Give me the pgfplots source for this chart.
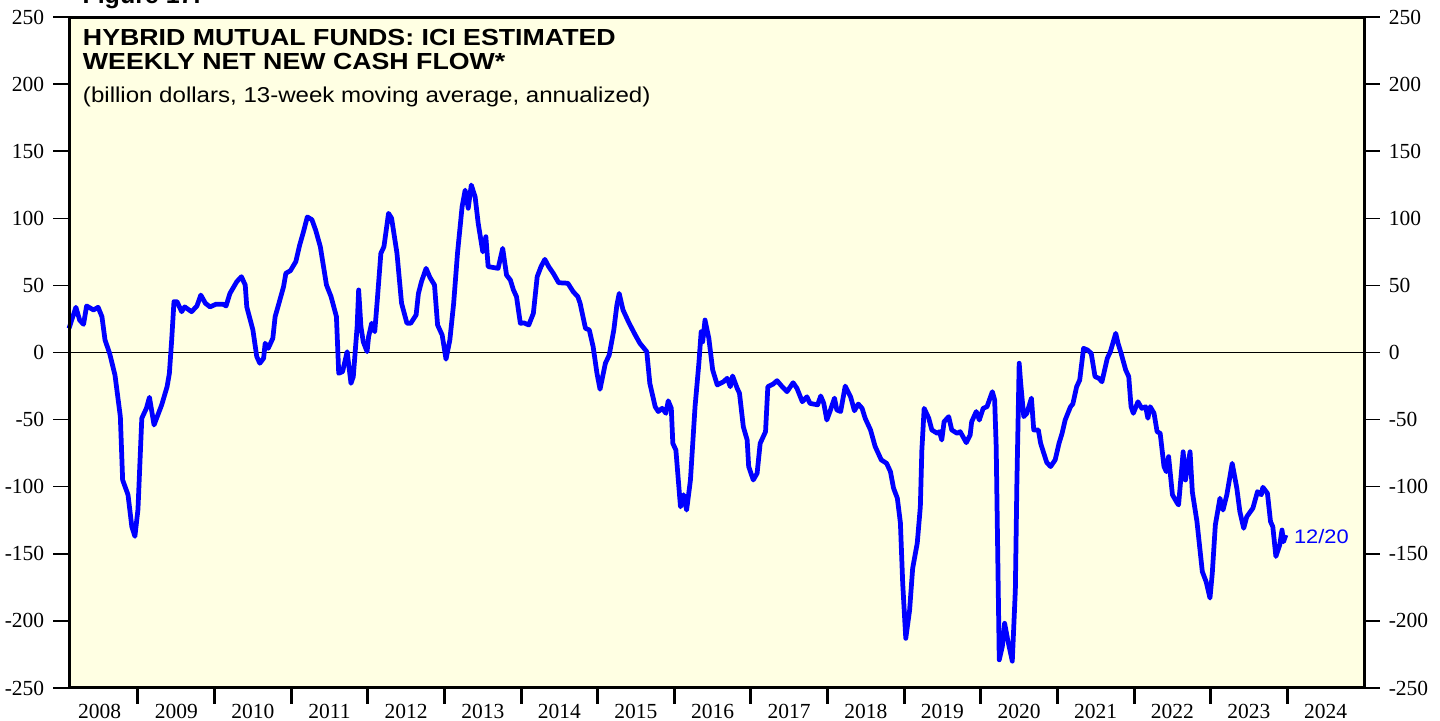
\documentclass[border=0pt]{standalone}
\usepackage{pgfplots}
\pgfplotsset{compat=1.18}
\usepackage{pgfplotstable}
\usepackage{fontspec}
\setmainfont{Liberation Serif}
\newfontfamily\arial{Liberation Sans}
\newfontfamily\titlesf[FakeStretch=1.15]{Liberation Sans}
\newfontfamily\subsf[FakeStretch=1.12]{Liberation Sans}
\definecolor{bgyellow}{RGB}{255,255,227}
\definecolor{lineblue}{RGB}{0,0,255}

% hybrid funds, 13-week avg, annualized (billion $)
\pgfplotstableread{
year flow
2008.10 18
2008.19 33.7
2008.24 24
2008.29 21
2008.33 34.7
2008.42 31.7
2008.48 33.7
2008.53 26.7
2008.57 9.3
2008.63 -0.6
2008.70 -16.8
2008.77 -47.8
2008.80 -95
2008.87 -106
2008.92 -129.8
2008.96 -137
2009.00 -117
2009.05 -49
2009.11 -41.6
2009.15 -33.4
2009.21 -54
2009.31 -39
2009.38 -25.5
2009.41 -15.5
2009.44 9.3
2009.47 37.9
2009.51 37.9
2009.57 30.4
2009.61 34
2009.70 30.4
2009.77 34.7
2009.82 42.8
2009.88 36.7
2009.94 34
2010.02 36
2010.11 36
2010.15 34.7
2010.20 44
2010.29 52.8
2010.35 56.5
2010.40 50.3
2010.42 34
2010.50 16.8
2010.55 -3
2010.59 -8
2010.64 -4.3
2010.66 6.9
2010.70 3.1
2010.76 10.6
2010.79 26.7
2010.83 34.7
2010.90 49
2010.93 59
2010.99 61
2011.06 67.7
2011.11 80
2011.16 90
2011.21 101
2011.27 99
2011.32 91
2011.38 78.8
2011.46 50.3
2011.52 41.6
2011.59 26.7
2011.62 -15.5
2011.67 -14.3
2011.73 0.6
2011.78 -23
2011.81 -18
2011.86 19.2
2011.88 46.6
2011.91 19.2
2011.94 8
2011.99 0.6
2012.01 11.8
2012.05 21.8
2012.09 15.5
2012.12 36.7
2012.17 73.9
2012.21 78.8
2012.27 103.7
2012.31 100
2012.38 74
2012.44 36.7
2012.51 21.8
2012.56 21.8
2012.63 28
2012.66 44
2012.70 52.8
2012.76 62.7
2012.81 56
2012.87 50.3
2012.91 20.5
2012.97 13
2013.02 -5
2013.07 9.3
2013.12 36.7
2013.17 74
2013.23 108.6
2013.27 121
2013.31 107.5
2013.35 124.8
2013.40 116
2013.44 96.3
2013.50 75
2013.54 86.3
2013.57 64
2013.70 62.7
2013.76 77.6
2013.81 57.7
2013.86 54
2013.90 46.6
2013.94 41.6
2013.99 21.8
2014.04 22
2014.10 20.5
2014.16 29.2
2014.21 56.5
2014.26 64
2014.31 69.4
2014.36 64
2014.42 59
2014.49 52
2014.61 51.6
2014.68 45.3
2014.74 41.6
2014.77 36.7
2014.84 18
2014.89 16.8
2014.94 4.3
2014.99 -15.5
2015.03 -27.4
2015.10 -8
2015.15 -1.9
2015.21 16.8
2015.25 35.4
2015.28 44
2015.33 31.7
2015.41 21.8
2015.49 13
2015.55 6.9
2015.64 0.6
2015.68 -23
2015.75 -40.4
2015.79 -44
2015.84 -41.6
2015.89 -45.3
2015.92 -36
2015.96 -41.6
2015.98 -67.7
2016.02 -72.7
2016.08 -115
2016.12 -106
2016.16 -117.4
2016.21 -95
2016.27 -40.4
2016.32 -8
2016.35 15.5
2016.37 8
2016.40 24.2
2016.45 10.6
2016.50 -13
2016.56 -24.2
2016.64 -21.8
2016.69 -19.2
2016.73 -25.5
2016.76 -17.5
2016.82 -26.7
2016.85 -30.4
2016.90 -55.3
2016.95 -65.2
2016.97 -85
2017.03 -95
2017.08 -90
2017.12 -67.7
2017.19 -59
2017.22 -25.5
2017.29 -23.5
2017.34 -21
2017.40 -25
2017.47 -29.2
2017.55 -22.5
2017.60 -26.7
2017.67 -36.7
2017.73 -33
2017.77 -37.9
2017.87 -39
2017.91 -32.4
2017.95 -37.9
2017.99 -50.3
2018.03 -44
2018.09 -34
2018.12 -42.8
2018.17 -44
2018.23 -25
2018.30 -33
2018.35 -43.4
2018.40 -38.4
2018.45 -41.6
2018.49 -49
2018.56 -57.7
2018.62 -70
2018.70 -80
2018.77 -82.6
2018.82 -88.8
2018.86 -101
2018.91 -108.6
2018.95 -127
2018.98 -172
2019.02 -213
2019.07 -192
2019.11 -160.8
2019.17 -142
2019.21 -115
2019.23 -72.7
2019.26 -41.6
2019.32 -49
2019.36 -57.7
2019.43 -60.2
2019.46 -59
2019.49 -65.2
2019.52 -51.6
2019.58 -47.8
2019.62 -57.7
2019.69 -60.2
2019.73 -59
2019.81 -67.2
2019.86 -61.5
2019.88 -51.6
2019.94 -44
2019.98 -50.3
2020.03 -41.6
2020.08 -40.4
2020.15 -29.2
2020.18 -35.4
2020.20 -70
2020.24 -229
2020.28 -219
2020.31 -201.8
2020.35 -214
2020.41 -230
2020.45 -177
2020.47 -97.5
2020.50 -8
2020.52 -23
2020.56 -47.8
2020.60 -45.3
2020.66 -34
2020.69 -57.7
2020.75 -57.7
2020.78 -67.7
2020.86 -82
2020.91 -85
2020.97 -80
2021.02 -67.7
2021.06 -60.2
2021.10 -50.3
2021.17 -40.4
2021.20 -38.4
2021.25 -25.5
2021.29 -20.5
2021.34 3.1
2021.39 1.9
2021.44 -0.6
2021.49 -18
2021.54 -19.2
2021.58 -21.8
2021.65 -4.3
2021.69 0.6
2021.76 14.3
2021.79 6.9
2021.83 -0.6
2021.89 -13
2021.93 -18
2021.96 -40.4
2021.99 -45.3
2022.05 -36.7
2022.10 -41.6
2022.15 -40.4
2022.18 -49
2022.21 -40.4
2022.26 -45.3
2022.30 -59
2022.34 -60.2
2022.39 -85
2022.42 -88.8
2022.45 -77.6
2022.50 -106
2022.56 -112
2022.58 -113.6
2022.64 -74
2022.67 -95
2022.73 -74
2022.76 -104
2022.82 -126
2022.89 -163.3
2022.94 -170.8
2022.99 -183
2023.02 -164.5
2023.06 -128.5
2023.12 -108.6
2023.16 -117.4
2023.21 -106
2023.28 -82.6
2023.34 -101
2023.38 -118.6
2023.43 -131
2023.47 -122.4
2023.55 -116
2023.61 -103.7
2023.66 -106
2023.68 -100.4
2023.74 -105
2023.78 -126
2023.81 -129.8
2023.85 -152
2023.90 -143.4
2023.93 -132.3
2023.95 -141
2023.98 -136
}\flowtable

\begin{document}
\begin{tikzpicture}
\pgfplotsset{
  base/.style={
    scale only axis, width=518pt, height=268.4pt,
    xmin=2008.1, xmax=2025, ymin=-250, ymax=250,
    ytick={-250,-200,...,250},
    yticklabels={-250,-200,-150,-100,-50,0,50,100,150,200,250},
    tick align=outside,
    major tick length=6.4pt,
    y tick style={black, line width=0.6pt},
    ticklabel style={font=\fontsize{8.6}{10}\selectfont},
    axis line style={line width=1.2pt},
  }}
\begin{axis}[base,
  axis background/.style={fill=bgyellow},
  xtick={2009,...,2024}, xticklabels={},
  x tick style={black, line width=1.2pt},
  xtick pos=bottom, ytick pos=left, yticklabel pos=left,
  extra x ticks={2008.5,2009.5,...,2024.5},
  extra x tick labels={2008,2009,2010,2011,2012,2013,2014,2015,2016,2017,2018,2019,2020,2021,2022,2023,2024},
  extra x tick style={major tick length=0pt, xticklabel style={yshift=-3pt}},
  clip=false,
]
\draw[black, line width=0.6pt] (axis cs:2008.1,0) -- (axis cs:2025,0);
\addplot[lineblue, line width=1.9pt, line join=round, mark=none] table[x=year, y=flow]{\flowtable};
\node[anchor=west, inner sep=0pt, text=lineblue, font=\subsf\fontsize{7.8}{9}\selectfont] at (axis cs:2024.08,-137) {12/20};
\node[anchor=base west, inner sep=0pt, font=\titlesf\bfseries\fontsize{9.3}{11}\selectfont] at ([xshift=5.4pt, yshift=-11.2pt]rel axis cs:0,1) {HYBRID MUTUAL FUNDS: ICI ESTIMATED};
\node[anchor=base west, inner sep=0pt, font=\titlesf\bfseries\fontsize{9.3}{11}\selectfont] at ([xshift=5.4pt, yshift=-20.9pt]rel axis cs:0,1) {WEEKLY NET NEW CASH FLOW*};
\node[anchor=base west, inner sep=0pt, font=\subsf\fontsize{8.6}{10}\selectfont] at ([xshift=5.4pt, yshift=-34.3pt]rel axis cs:0,1) {(billion dollars, 13-week moving average, annualized)};
\node[anchor=base west, inner sep=0pt, font=\arial\bfseries\fontsize{10}{12}\selectfont] at ([xshift=5.2pt, yshift=5.2pt]rel axis cs:0,1) {Figure 17.};
\end{axis}
\begin{axis}[base,
  hide x axis,
  ytick pos=right, yticklabel pos=right,
]
\end{axis}
\pgfresetboundingbox
\path ([shift={(-27.6pt,-13.2pt)}]current axis.south west) rectangle ([shift={(30.4pt,6.8pt)}]current axis.north east);
\end{tikzpicture}
\end{document}
